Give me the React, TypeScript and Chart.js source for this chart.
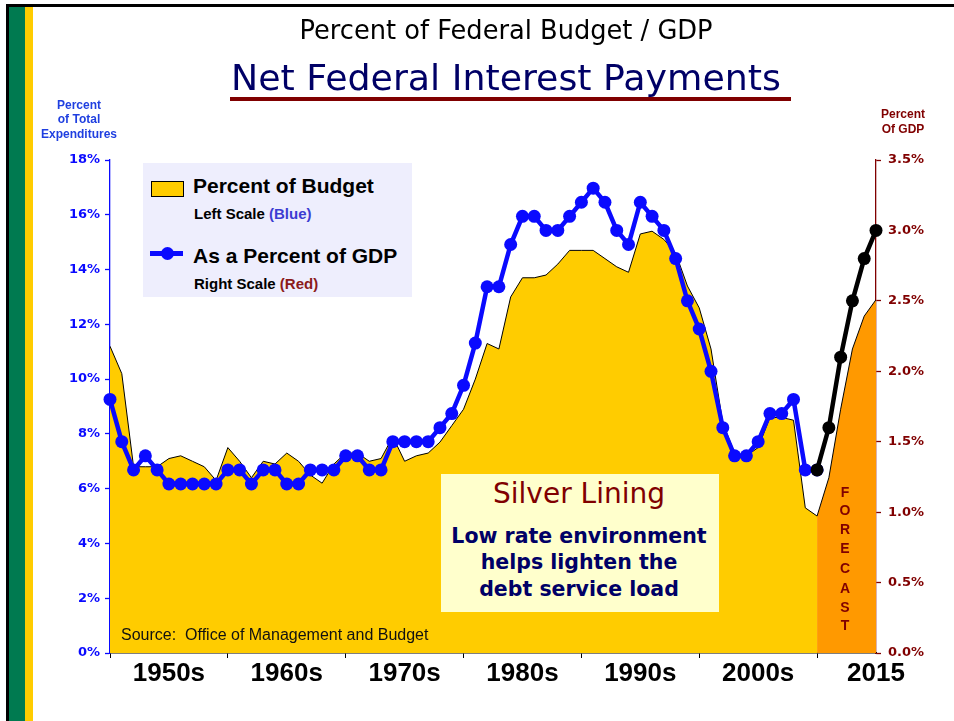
import React, { useEffect, useRef } from "react";
import { Chart, registerables } from "chart.js";
Chart.register(...registerables);

// ---- data ----
const years = [
  1950, 1951, 1952, 1953, 1954, 1955, 1956, 1957, 1958, 1959,
  1960, 1961, 1962, 1963, 1964, 1965, 1966, 1967, 1968, 1969,
  1970, 1971, 1972, 1973, 1974, 1975, 1976, 1977, 1978, 1979,
  1980, 1981, 1982, 1983, 1984, 1985, 1986, 1987, 1988, 1989,
  1990, 1991, 1992, 1993, 1994, 1995, 1996, 1997, 1998, 1999,
  2000, 2001, 2002, 2003, 2004, 2005, 2006, 2007, 2008, 2009,
  2010, 2011, 2012, 2013, 2014, 2015,
];
// Net interest as % of total outlays (left scale)
const budgetPct = [
  11.2, 10.2, 6.8, 6.8, 6.8, 7.1, 7.2, 7.0, 6.8, 6.3,
  7.5, 7.0, 6.4, 7.0, 6.9, 7.3, 7.0, 6.5, 6.2, 6.9,
  7.3, 7.3, 7.0, 7.1, 7.9, 7.0, 7.2, 7.3, 7.7, 8.3,
  8.9, 10.0, 11.3, 11.1, 13.0, 13.7, 13.7, 13.8, 14.2, 14.7,
  14.7, 14.7, 14.4, 14.1, 13.9, 15.3, 15.4, 15.1, 14.6, 13.4,
  12.6, 11.1, 8.4, 7.3, 7.2, 7.5, 8.6, 8.6, 8.5, 5.3,
  5.0, 6.4, 8.9, 11.1, 12.3, 12.9,
];
// Net interest as % of GDP, actual (right scale), 1950-2010
const gdpPct = [
  1.8, 1.5, 1.3, 1.4, 1.3, 1.2, 1.2, 1.2, 1.2, 1.2,
  1.3, 1.3, 1.2, 1.3, 1.3, 1.2, 1.2, 1.3, 1.3, 1.3,
  1.4, 1.4, 1.3, 1.3, 1.5, 1.5, 1.5, 1.5, 1.6, 1.7,
  1.9, 2.2, 2.6, 2.6, 2.9, 3.1, 3.1, 3.0, 3.0, 3.1,
  3.2, 3.3, 3.2, 3.0, 2.9, 3.2, 3.1, 3.0, 2.8, 2.5,
  2.3, 2.0, 1.6, 1.4, 1.4, 1.5, 1.7, 1.7, 1.8, 1.3,
  1.3,
];
// Forecast, % of GDP
const forecastYears = [2010, 2011, 2012, 2013, 2014, 2015];
const gdpForecast = [1.3, 1.6, 2.1, 2.5, 2.8, 3.0];
const forecastStart = 2010;

// axes
const decadeTicks = [1950, 1960, 1970, 1980, 1990, 2000, 2010];
const xLabelYears = [1955, 1965, 1975, 1985, 1995, 2005, 2015];
const xLabelTexts = ["1950s", "1960s", "1970s", "1980s", "1990s", "2000s", "2015"];
const forecastLetters = ["F", "O", "R", "E", "C", "A", "S", "T"];

const BLUE = "#0a0aff";
const DARKRED = "#800000";
const YELLOW = "#FFCC00";
const ORANGE = "#FF9900";
const ARIAL = "'Liberation Sans', Arial, sans-serif";
const VERDANA = "'DejaVu Sans', Verdana, sans-serif";

type TProps = { x: number; y: number; children?: any; style?: any; left?: boolean };
const T = ({ x, y, children, style, left }: TProps) => (
  <div
    style={{
      position: "absolute",
      left: x,
      top: y,
      transform: left ? "translate(0,-50%)" : "translate(-50%,-50%)",
      whiteSpace: "nowrap",
      lineHeight: 1,
      ...style,
    }}
  >
    {children}
  </div>
);

export default function App() {
  const ref = useRef<HTMLCanvasElement>(null);

  useEffect(() => {
    const canvas = ref.current;
    if (!canvas) return;
    const budgetPts = years.map((x, i) => ({ x, y: budgetPct[i] }));
    const actualBudget = budgetPts.filter((p) => p.x <= forecastStart);
    const forecastBudget = budgetPts.filter((p) => p.x >= forecastStart);
    const gdpHist = gdpPct.map((y, i) => ({ x: years[i], y }));
    const gdpFc = forecastYears.map((x, i) => ({ x, y: gdpForecast[i] }));

    const chart = new Chart(canvas, {
      type: "line",
      data: {
        datasets: [
          {
            label: "Forecast % of GDP",
            data: gdpFc,
            yAxisID: "y1",
            borderColor: "#000",
            backgroundColor: "#000",
            borderWidth: 4.5,
            pointRadius: 6.5,
            pointBorderWidth: 0,
            pointBackgroundColor: "#000",
            fill: false,
            order: 0,
            clip: false as any,
          },
          {
            label: "As a Percent of GDP",
            data: gdpHist,
            yAxisID: "y1",
            borderColor: BLUE,
            backgroundColor: BLUE,
            borderWidth: 4.5,
            pointRadius: 6.5,
            pointBorderWidth: 0,
            pointBackgroundColor: BLUE,
            fill: false,
            order: 1,
            clip: false as any,
          },
          {
            label: "Percent of Budget",
            data: actualBudget,
            yAxisID: "y",
            borderColor: "#000",
            borderWidth: 1,
            backgroundColor: YELLOW,
            pointRadius: 0,
            fill: "origin",
            order: 2,
          },
          {
            label: "Percent of Budget (forecast)",
            data: forecastBudget,
            yAxisID: "y",
            borderColor: "#000",
            borderWidth: 1,
            backgroundColor: ORANGE,
            pointRadius: 0,
            fill: "origin",
            order: 3,
          },
        ],
      },
      options: {
        animation: false,
        responsive: false,
        devicePixelRatio: 1,
        layout: { padding: { top: 160, bottom: 18, left: 0, right: 0 } },
        plugins: { legend: { display: false }, tooltip: { enabled: false } },
        elements: { line: { tension: 0 } },
        scales: {
          x: {
            type: "linear",
            min: 1950,
            max: 2015,
            afterBuildTicks: (s: any) => {
              s.ticks = [...decadeTicks, ...xLabelYears]
                .sort((a, b) => a - b)
                .map((v) => ({ value: v }));
            },
            afterFit: (s: any) => {
              s.height = 50;
            },
            ticks: {
              autoSkip: false,
              maxRotation: 0,
              minRotation: 0,
              padding: 0,
              color: "#000",
              font: { family: ARIAL, size: 26, weight: "bold" },
              callback: (v: any) => {
                const i = xLabelYears.indexOf(Number(v));
                return i >= 0 ? xLabelTexts[i] : "";
              },
            },
            grid: {
              drawOnChartArea: false,
              drawTicks: true,
              tickLength: 5,
              tickWidth: 1,
              tickColor: (ctx: any) =>
                ctx.tick && decadeTicks.includes(ctx.tick.value) ? "#000" : "rgba(0,0,0,0)",
            },
            border: { display: true, color: "#000", width: 1.5 },
          },
          y: {
            type: "linear",
            position: "left",
            min: 0,
            max: 18,
            afterFit: (s: any) => {
              s.width = 110;
            },
            ticks: {
              stepSize: 2,
              padding: 5,
              color: BLUE,
              font: { family: VERDANA, size: 13, weight: "bold" },
              callback: (v: any) => `${v}%`,
            },
            grid: {
              drawOnChartArea: false,
              tickLength: 5,
              tickColor: BLUE,
              tickWidth: 1.3,
            },
            border: { display: true, color: BLUE, width: 1.3 },
          },
          y1: {
            type: "linear",
            position: "right",
            min: 0,
            max: 3.5,
            afterFit: (s: any) => {
              s.width = 78;
            },
            ticks: {
              stepSize: 0.5,
              padding: 7,
              color: DARKRED,
              font: { family: VERDANA, size: 13, weight: "bold" },
              callback: (v: any) => `${Number(v).toFixed(1)}%`,
            },
            grid: {
              drawOnChartArea: false,
              tickLength: 5,
              tickColor: DARKRED,
              tickWidth: 1.3,
            },
            border: { display: true, color: DARKRED, width: 1.3 },
          },
        },
      } as any,
    });
    return () => chart.destroy();
  }, []);

  const forecastY = [492, 510, 529, 548, 568, 588, 607, 625];

  return (
    <div
      style={{
        position: "absolute",
        left: 0,
        top: 0,
        width: 954,
        height: 721,
        background: "#fff",
        overflow: "hidden",
      }}
    >
      {/* slide frame */}
      <div style={{ position: "absolute", left: 6, top: 4, width: 948, height: 3, background: "#000" }} />
      <div style={{ position: "absolute", left: 6, top: 4, width: 3, height: 717, background: "#000" }} />
      <div style={{ position: "absolute", left: 9, top: 7, width: 16, height: 714, background: "#007A50" }} />
      <div style={{ position: "absolute", left: 25, top: 7, width: 8, height: 714, background: YELLOW }} />

      <canvas
        ref={ref}
        width={954}
        height={721}
        style={{ position: "absolute", left: 0, top: 0, width: 954, height: 721 }}
      />

      {/* titles */}
      <T x={506} y={31} style={{ fontFamily: VERDANA, fontSize: 25.7, color: "#000" }}>
        Percent of Federal Budget / GDP
      </T>
      <T x={506} y={78} style={{ fontFamily: VERDANA, fontSize: 36.3, color: "#000066" }}>
        Net Federal Interest Payments
      </T>
      <div style={{ position: "absolute", left: 230, top: 97, width: 561, height: 4, background: DARKRED }} />

      {/* axis titles */}
      <div
        style={{
          position: "absolute",
          left: 79,
          top: 98,
          transform: "translateX(-50%)",
          textAlign: "center",
          fontFamily: ARIAL,
          fontWeight: "bold",
          fontSize: 12,
          lineHeight: "14.3px",
          color: "#1f3fe0",
          whiteSpace: "nowrap",
        }}
      >
        Percent
        <br />
        of Total
        <br />
        Expenditures
      </div>
      <div
        style={{
          position: "absolute",
          left: 903,
          top: 107,
          transform: "translateX(-50%)",
          textAlign: "center",
          fontFamily: ARIAL,
          fontWeight: "bold",
          fontSize: 12,
          lineHeight: "14.5px",
          color: DARKRED,
          whiteSpace: "nowrap",
        }}
      >
        Percent
        <br />
        Of GDP
      </div>

      {/* legend */}
      <div style={{ position: "absolute", left: 143, top: 163, width: 269, height: 134, background: "#EEEEFD" }} />
      <div
        style={{
          position: "absolute",
          left: 150.5,
          top: 180.5,
          width: 31,
          height: 14,
          background: YELLOW,
          border: "1px solid #000",
        }}
      />
      <T x={193} y={184.5} left style={{ fontFamily: ARIAL, fontWeight: "bold", fontSize: 21, color: "#000" }}>
        Percent of Budget
      </T>
      <T x={194} y={212.5} left style={{ fontFamily: ARIAL, fontWeight: "bold", fontSize: 15, color: "#000" }}>
        Left Scale <span style={{ color: "#3c3cd2" }}>(Blue)</span>
      </T>
      <div style={{ position: "absolute", left: 150, top: 251, width: 33, height: 4.5, background: BLUE }} />
      <div
        style={{
          position: "absolute",
          left: 160.5,
          top: 246.5,
          width: 13,
          height: 13,
          borderRadius: "50%",
          background: BLUE,
        }}
      />
      <T x={193} y={254.5} left style={{ fontFamily: ARIAL, fontWeight: "bold", fontSize: 21, color: "#000" }}>
        As a Percent of GDP
      </T>
      <T x={194} y={283} left style={{ fontFamily: ARIAL, fontWeight: "bold", fontSize: 15, color: "#000" }}>
        Right Scale <span style={{ color: "#8b1a1a" }}>(Red)</span>
      </T>

      {/* silver lining box */}
      <div style={{ position: "absolute", left: 441, top: 474, width: 278, height: 138, background: "#FFFFCC" }} />
      <T x={579} y={494} style={{ fontFamily: VERDANA, fontSize: 28, color: DARKRED }}>
        Silver Lining
      </T>
      <T x={579} y={535.5} style={{ fontFamily: VERDANA, fontWeight: "bold", fontSize: 20.5, color: "#000066" }}>
        Low rate environment
      </T>
      <T x={579} y={562} style={{ fontFamily: VERDANA, fontWeight: "bold", fontSize: 20.5, color: "#000066" }}>
        helps lighten the
      </T>
      <T x={579} y={588.5} style={{ fontFamily: VERDANA, fontWeight: "bold", fontSize: 20.5, color: "#000066" }}>
        debt service load
      </T>

      {/* source */}
      <T x={121} y={635} left style={{ fontFamily: ARIAL, fontSize: 16, color: "#111" }}>
        Source:&nbsp; Office of Management and Budget
      </T>

      {/* forecast label */}
      {forecastLetters.map((ch, i) => (
        <T
          key={i}
          x={845}
          y={forecastY[i]}
          style={{ fontFamily: ARIAL, fontWeight: "bold", fontSize: 14, color: DARKRED }}
        >
          {ch}
        </T>
      ))}
    </div>
  );
}
